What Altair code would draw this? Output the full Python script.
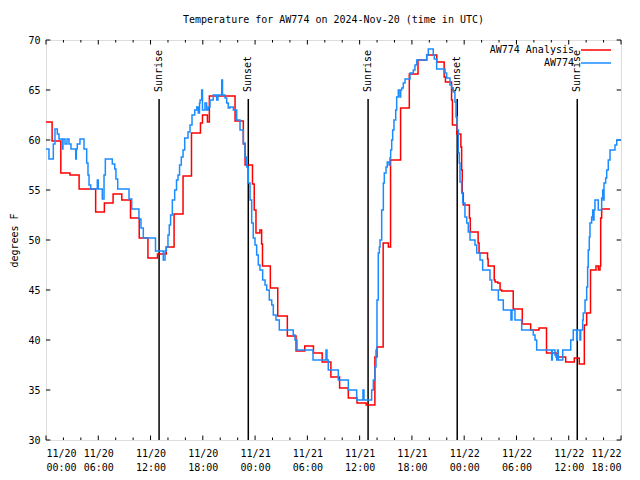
import altair as alt
import pandas as pd

# ---- data (hours since 2024-11-20 00:00 UTC, degrees F) ----
analysis_h = [0.00, 0.70, 1.70, 2.75, 3.80, 5.70, 6.70, 7.70, 8.70, 9.70, 10.70, 11.70, 12.80, 13.80,
              14.70, 15.73, 16.70, 17.73, 17.96, 18.53, 18.75, 21.70, 22.65, 22.85, 23.70, 23.90, 24.10,
              24.55, 24.75, 24.85, 25.75, 26.60, 27.70, 28.70, 29.70, 30.70, 31.70, 32.70, 33.70, 34.70,
              35.70, 36.75, 37.75, 38.00, 38.70, 39.30, 39.55, 40.70, 41.70, 42.70, 43.70, 44.85, 45.70,
              45.85, 46.55, 46.65, 47.15, 47.62, 47.71, 47.78, 47.90, 48.60, 48.70, 49.60, 49.71, 50.68,
              50.75, 51.45, 51.55, 51.86, 52.12, 52.31, 53.63, 54.67, 55.63, 56.59, 57.45, 58.55, 59.65,
              60.64, 61.21, 61.79, 62.06, 62.50, 63.13, 63.40, 63.59, 63.67, 63.78, 64.74]
analysis_t = [61.8, 59.9, 56.7, 56.5, 55.1, 52.8, 53.7, 54.6, 54.0, 52.2, 50.2, 48.2, 48.6, 49.3,
              52.6, 56.4, 60.7, 61.7, 62.5, 61.8, 64.4, 61.9, 59.6, 57.5, 55.6, 53.0, 50.7,
              51.0, 49.6, 47.4, 45.2, 42.4, 40.4, 38.9, 39.4, 38.7, 37.8, 36.3, 35.2, 34.2,
              33.7, 33.5, 38.3, 39.3, 49.7, 49.3, 58.0, 63.2, 66.6, 68.0, 68.5, 67.8, 66.3,
              65.8, 64.0, 61.5, 60.6, 59.3, 57.0, 54.7, 53.5, 52.2, 50.8, 49.7, 48.7, 48.1,
              47.4, 46.0, 45.8, 45.7, 45.0, 44.9, 43.1, 41.6, 41.0, 41.2, 38.7, 38.3, 37.8,
              38.2, 37.6, 41.5, 42.7, 47.0, 47.4, 47.0, 47.4, 52.2, 53.1, 53.1]

obs_h = [0.00, 0.34, 0.84, 1.03, 1.30, 1.49, 1.87, 1.95, 2.18, 2.41, 2.64, 2.87, 3.41, 3.48, 3.59, 3.90,
         4.36, 4.67, 4.82, 4.94, 5.13, 5.89, 6.00, 6.46, 6.66, 6.81, 7.61, 7.89, 8.03, 8.23, 9.53, 9.84,
         10.67, 10.90, 11.17, 12.57, 13.46, 13.66, 13.81, 14.00, 14.15, 14.30, 14.50, 14.77, 14.98, 15.15,
         15.33, 15.53, 15.73, 15.92, 16.30, 16.53, 16.76, 17.07, 17.30, 17.48, 17.62, 17.68, 17.87, 17.96,
         18.25, 18.44, 18.63, 18.82,
         19.20, 19.59, 19.74, 20.17, 20.26, 20.55, 20.74, 20.92, 21.12, 21.50, 21.89, 22.27, 22.65, 22.84,
         23.04, 23.22, 23.42, 23.61, 23.79, 23.99, 24.18, 24.37, 24.56, 24.87, 25.14, 25.33, 25.63, 25.91,
         26.09, 26.40, 26.78, 28.38, 28.58, 28.81, 30.65, 32.14, 32.25, 32.40, 33.55, 34.70, 35.66, 36.38,
         36.50, 37.38, 37.57, 37.76, 37.88, 37.99, 38.14, 38.26, 38.34, 38.53, 38.72, 38.83, 39.03, 39.17,
         39.37, 39.48, 39.56, 39.68, 39.79, 39.94, 40.14, 40.25, 40.44, 40.63, 40.71, 40.83, 41.01, 41.21,
         41.78, 42.16, 42.35, 42.55, 43.70, 43.88, 44.45, 44.57, 44.84, 45.80, 45.99, 46.37, 46.56, 46.75,
         46.94, 47.06, 47.21, 47.33, 47.44, 47.52, 47.71, 47.83, 48.09, 48.29, 48.47, 48.67, 49.24, 49.44,
         49.82, 50.12, 50.96, 51.16, 51.92, 52.49, 53.37, 53.49, 53.83, 54.60, 55.93, 56.13, 56.32, 58.04,
         58.11, 58.42, 58.62, 58.71, 58.80, 59.31, 60.23, 60.52, 60.91, 60.98, 61.29, 61.37, 61.60, 61.67,
         61.87, 62.06, 62.17, 62.24, 62.36, 62.44, 62.63, 62.75, 62.82, 62.90, 63.01, 63.39, 63.78, 63.90,
         63.97, 64.05, 64.24, 64.36, 64.54, 64.74, 65.31, 65.51, 66.00]
obs_t = [59.1, 58.1, 59.6, 61.1, 60.6, 60.1, 59.1, 60.1, 59.6, 60.1, 59.6, 59.1, 58.1, 59.1, 59.6, 60.1,
         59.1, 57.7, 56.5, 55.5, 55.1, 56.0, 55.1, 54.1, 56.5, 58.1, 57.6, 57.1, 56.1, 55.1, 54.1, 53.1,
         52.1, 51.2, 50.2, 48.9, 48.0, 48.9, 49.3, 50.5, 51.5, 52.5, 54.0, 55.0, 56.0, 56.5,
         57.5, 58.3, 59.0, 60.2, 60.8, 61.5, 62.5, 63.0, 63.3, 62.7, 63.7, 64.0, 65.0, 63.0,
         63.7, 63.0, 63.3, 64.0,
         64.5, 64.0, 64.5, 66.0, 64.5, 64.2, 63.7, 63.2, 63.3, 63.0, 62.0, 61.0, 59.7, 58.3,
         57.3, 55.7, 54.0, 51.7, 50.2, 49.5, 48.5, 47.5, 47.0, 46.0, 45.5, 45.0, 44.0, 43.5,
         42.5, 42.0, 41.0, 40.5, 40.0, 39.0, 38.0, 39.0, 38.0, 37.0, 36.0, 35.0, 34.0, 35.0,
         34.0, 35.0, 36.0, 37.3, 39.0, 44.0, 48.7, 49.3, 50.0, 53.0, 55.7, 56.7, 57.3, 57.8,
         57.5, 58.2, 59.0, 60.0, 61.0, 62.0, 63.0, 64.3, 65.0, 64.3, 65.0, 65.2, 65.7, 66.1,
         66.7, 67.0, 67.5, 68.0, 68.5, 69.1, 68.5, 68.1, 67.1, 66.7, 66.2, 65.5, 65.2, 64.8,
         63.8, 62.3, 61.0, 58.7, 57.7, 55.8, 54.7, 53.7, 52.3, 51.7, 50.8, 50.0, 49.5, 48.7,
         48.0, 47.0, 46.0, 45.0, 44.0, 43.0, 42.0, 43.0, 42.0, 41.0, 40.5, 40.0, 39.0, 38.0,
         39.0, 38.5, 38.0, 39.0, 38.0, 39.0, 40.0, 41.0, 40.0, 41.0, 40.0, 41.0, 42.0, 42.7,
         44.0, 45.3, 47.3, 49.0, 50.3, 51.7, 52.3, 53.0, 52.0, 53.0, 54.0, 53.0, 54.2, 55.0,
         54.0, 55.7, 56.2, 57.0, 58.0, 59.0, 59.5, 60.0, 60.0]

event_h = [12.98, 23.22, 36.97, 47.20, 60.98]
event_label = ["Sunrise", "Sunset", "Sunrise", "Sunset", "Sunrise"]

series_names = ["AW774 Analysis", "AW774"]
series_colors = ["#ff0000", "#1a8cff"]

x_major = list(range(0, 67, 6))
x_minor = [h for h in range(0, 67, 2) if h % 6]
y_ticks = list(range(30, 71, 5))

assert len(analysis_h) == len(analysis_t), (len(analysis_h), len(analysis_t))
assert len(obs_h) == len(obs_t), (len(obs_h), len(obs_t))

FONT = "DejaVu Sans Mono"

red_df = pd.DataFrame({"h": analysis_h, "temp": analysis_t, "series": series_names[0]})
blue_df = pd.DataFrame({"h": obs_h, "temp": obs_t, "series": series_names[1]})
ev_df = pd.DataFrame({"h": event_h, "label": event_label})
maj_df = pd.DataFrame({"h": x_major})
min_df = pd.DataFrame({"h": x_minor})
yt_df = pd.DataFrame({"v": y_ticks})

xsc = alt.Scale(domain=[0, 66], nice=False, zero=False)
ysc = alt.Scale(domain=[30, 70], nice=False, zero=False)

x_axis = alt.Axis(values=x_major, ticks=False, domain=False, grid=False, title=None,
                  labelExpr="['11/' + (20 + floor(datum.value / 24)), (datum.value % 24 < 10 ? '0' : '') + (datum.value % 24) + ':00']",
                  labelFont=FONT, labelFontSize=10, labelPadding=8, labelLineHeight=14,
                  labelColor="black", labelAngle=0, labelOverlap=False)
y_axis = alt.Axis(values=y_ticks, ticks=False, domain=False, grid=False, title="degrees F",
                  titleFont=FONT, titleFontSize=10, titleFontWeight="normal", titleColor="black",
                  titleX=-32, titleY=200, titleAngle=270, titleBaseline="middle", titleAlign="center",
                  labelFont=FONT, labelFontSize=10, labelPadding=6, labelColor="black")

X = alt.X("h:Q", scale=xsc, axis=x_axis)


def series_color(i, legend_y):
    return alt.Color("series:N",
                     scale=alt.Scale(domain=[series_names[i]], range=[series_colors[i]]),
                     legend=alt.Legend(orient="none", legendX=534, legendY=legend_y, title=None,
                                       symbolType="stroke", symbolSize=900, symbolStrokeWidth=1.5,
                                       labelAlign="right", labelOffset=alt.ExprRef("-38"),
                                       labelFont=FONT, labelFontSize=10, labelColor="black",
                                       padding=0, labelLimit=200))


red = alt.Chart(red_df).mark_line(interpolate="step-after", strokeWidth=1.5).encode(
    x=X, y=alt.Y("temp:Q", scale=ysc, axis=y_axis), color=series_color(0, -6))
blue = alt.Chart(blue_df).mark_line(interpolate="step-after", strokeWidth=1.5).encode(
    x=X, y=alt.Y("temp:Q", scale=ysc, axis=y_axis), color=series_color(1, 7))

ev_rule = alt.Chart(ev_df).mark_rule(color="black", strokeWidth=1.5).encode(
    x=X, y=alt.datum(64.1), y2=alt.datum(30))
ev_text = alt.Chart(ev_df).mark_text(angle=270, align="left", baseline="middle", font=FONT,
                                     fontSize=10, color="black").encode(
    x=X, y=alt.datum(64.8), text="label:N")

tick_b_maj = alt.Chart(maj_df).mark_rule(color="black").encode(x=X, y=alt.datum(30), y2=alt.datum(30.45))
tick_t_maj = alt.Chart(maj_df).mark_rule(color="black").encode(x=X, y=alt.datum(70), y2=alt.datum(69.55))
tick_b_min = alt.Chart(min_df).mark_rule(color="black").encode(x=X, y=alt.datum(30), y2=alt.datum(30.25))
tick_t_min = alt.Chart(min_df).mark_rule(color="black").encode(x=X, y=alt.datum(70), y2=alt.datum(69.75))
tick_l = alt.Chart(yt_df).mark_rule(color="black").encode(
    y=alt.Y("v:Q", scale=ysc, axis=y_axis), x=alt.datum(0), x2=alt.datum(0.5))
tick_r = alt.Chart(yt_df).mark_rule(color="black").encode(
    y=alt.Y("v:Q", scale=ysc, axis=y_axis), x=alt.datum(66), x2=alt.datum(65.5))

chart = alt.layer(
    tick_b_maj, tick_t_maj, tick_b_min, tick_t_min, tick_l, tick_r,
    ev_rule, ev_text, red, blue
).resolve_scale(color="independent").properties(
    width=575, height=400,
    title=alt.TitleParams("Temperature for AW774 on 2024-Nov-20 (time in UTC)", font=FONT,
                          fontSize=10, fontWeight="normal", anchor="middle", color="black",
                          offset=1, baseline="alphabetic"),
    autosize=alt.AutoSizeParams(type="none"),
    padding={"left": 38, "top": 32, "right": 11, "bottom": 32},
).configure_view(stroke="black", strokeWidth=1).configure(background="white")

chart.save("out.html", embed_options={"renderer": "svg", "actions": False})
